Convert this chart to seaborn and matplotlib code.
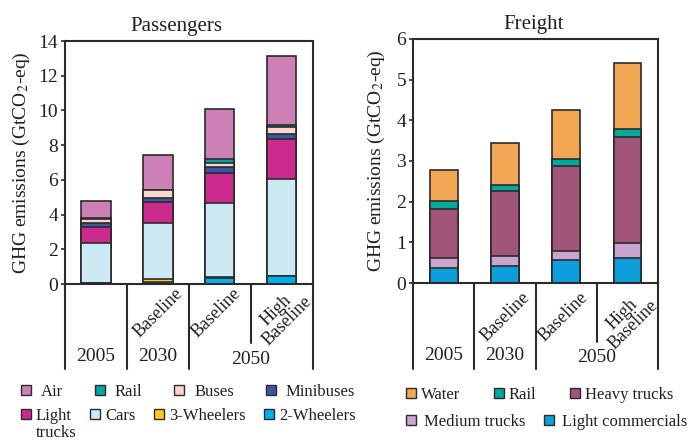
import numpy as np
import pandas as pd
import seaborn as sns
import matplotlib.pyplot as plt
import matplotlib.transforms as mtransforms
from matplotlib.patches import Patch

scenarios = ["2005", "2030 Baseline", "2050 Baseline", "2050 High Baseline"]

# passengers, layers from the bottom up (GtCO2-eq)
pass_names = ["2-Wheelers", "3-Wheelers", "Cars", "Light trucks", "Minibuses", "Buses", "Rail", "Air"]
two_wheelers = [0.05, 0.10, 0.36, 0.46]
three_wheelers = [0.03, 0.20, 0.02, 0.02]
cars = [2.31, 3.24, 4.27, 5.58]
light_trucks = [0.90, 1.18, 1.75, 2.31]
minibuses = [0.21, 0.25, 0.33, 0.25]
buses = [0.22, 0.42, 0.25, 0.42]
pass_rail = [0.06, 0.04, 0.20, 0.13]
air = [1.00, 1.99, 2.88, 3.97]
pass_colors = ["#00AEEF", "#FFCB1F", "#CDE9F4", "#CC2A8D", "#3B56A5", "#F8D5CF", "#00A79D", "#CC80B5"]

# freight, layers from the bottom up
freight_names = ["Light commercials", "Medium trucks", "Heavy trucks", "Rail", "Water"]
light_comm = [0.37, 0.42, 0.56, 0.62]
medium_trucks = [0.25, 0.24, 0.24, 0.37]
heavy_trucks = [1.21, 1.61, 2.08, 2.61]
freight_rail = [0.19, 0.14, 0.18, 0.18]
water = [0.77, 1.04, 1.20, 1.63]
freight_colors = ["#0C9FDB", "#C9A4CF", "#A15578", "#00A99D", "#F2A552"]

edge = "#2B2B2B"
ink = "#231F20"

sns.set_theme(style="ticks")
plt.rcParams["font.family"] = ["Liberation Serif", "DejaVu Serif"]
plt.rcParams["mathtext.fontset"] = "stix"
plt.rcParams["text.color"] = ink
plt.rcParams["axes.labelcolor"] = ink
plt.rcParams["xtick.color"] = ink
plt.rcParams["ytick.color"] = ink


def stacked(ax, layers, names, colors, width):
    df = pd.DataFrame(dict(zip(names, layers)), index=scenarios)
    cum = df.cumsum(axis=1)
    # draw the running totals from the top layer down, each one covering the next
    for name, col in reversed(list(zip(names, colors))):
        sns.barplot(x=scenarios, y=cum[name].values, order=scenarios, color=col,
                    saturation=1, width=width, edgecolor=edge, linewidth=1.2,
                    errorbar=None, ax=ax)


def categories(ax, year_y, rot_y):
    trans = mtransforms.blended_transform_factory(ax.transData, ax.transAxes)
    for xv, depth in [(-0.5, -0.35), (0.5, -0.35), (1.5, -0.35), (2.5, -0.243), (3.5, -0.35)]:
        ax.plot([xv, xv], [0, depth], transform=trans, clip_on=False, color=edge, lw=1.5)
    ax.text(1.0, rot_y, "Baseline", transform=trans, rotation=45, ha="center", va="center", fontsize=13)
    ax.text(1.95, rot_y, "Baseline", transform=trans, rotation=45, ha="center", va="center", fontsize=13)
    ax.text(3.0, rot_y - 0.01, "High\nBaseline", transform=trans, rotation=45, ha="center", va="center",
            fontsize=13, linespacing=0.9, multialignment="center")
    ax.text(0, year_y, "2005", transform=trans, ha="center", va="center", fontsize=14)
    ax.text(1, year_y, "2030", transform=trans, ha="center", va="center", fontsize=14)
    ax.text(2.5, year_y - 0.01, "2050", transform=trans, ha="center", va="center", fontsize=14)


fig = plt.figure(figsize=(6.92, 4.41), dpi=100)
ax1 = fig.add_axes([0.094, 0.356, 0.358, 0.551])
ax2 = fig.add_axes([0.597, 0.358, 0.354, 0.554])

stacked(ax1, [two_wheelers, three_wheelers, cars, light_trucks, minibuses, buses, pass_rail, air],
        pass_names, pass_colors, 0.47)
stacked(ax2, [light_comm, medium_trucks, heavy_trucks, freight_rail, water],
        freight_names, freight_colors, 0.45)

for ax, top, title, tx, lx in [(ax1, 14, "Passengers", 0.45, -0.135), (ax2, 6, "Freight", 0.49, -0.108)]:
    ax.set_xticks([])
    ax.set_xlabel("")
    ax.set_yticks(np.arange(0, top + 1, 2 if top == 14 else 1))
    ax.tick_params(axis="y", labelsize=14, length=3, width=1.2, pad=2, color=edge)
    for s in ax.spines.values():
        s.set_color(edge)
        s.set_linewidth(1.5)
    ax.set_ylabel("GHG emissions (GtCO$_2$-eq)", fontsize=14)
    ax.yaxis.set_label_coords(lx, 0.5)
    ax.set_title(title, fontsize=15, x=tx, pad=7, color=ink)

categories(ax1, -0.30, -0.12)
categories(ax2, -0.295, -0.14)

for ax, top in [(ax1, 14), (ax2, 6)]:
    ax.set_xlim(-0.5, 3.5)
    ax.set_ylim(0, top)


def row(labels, colors, x, y, gap, textpad):
    hs = [Patch(facecolor=c, edgecolor=edge, linewidth=1.0) for c in colors]
    fig.legend(hs, labels, ncol=len(labels), loc="center left", bbox_to_anchor=(x / 692, 1 - y / 441),
               frameon=False, fontsize=12, borderpad=0, borderaxespad=0, handlelength=0.6,
               handleheight=0.6, handletextpad=textpad, columnspacing=gap)


row(["Air", "Rail", "Buses", "Minibuses"],
    [pass_colors[7], pass_colors[6], pass_colors[5], pass_colors[4]], 21, 392, 1.9, 0.6)
row(["Light", "Cars", "3-Wheelers", "2-Wheelers"],
    [pass_colors[3], pass_colors[2], pass_colors[1], pass_colors[0]], 21, 416, 1.1, 0.3)
fig.text(36 / 692, 1 - 433 / 441, "trucks", fontsize=12, va="center")

row(["Water", "Rail", "Heavy trucks"],
    [freight_colors[4], freight_colors[3], freight_colors[2]], 406, 395, 2.0, 0.3)
row(["Medium trucks", "Light commercials"],
    [freight_colors[1], freight_colors[0]], 406, 422, 1.1, 0.5)

fig.savefig("out.png", dpi=100)
